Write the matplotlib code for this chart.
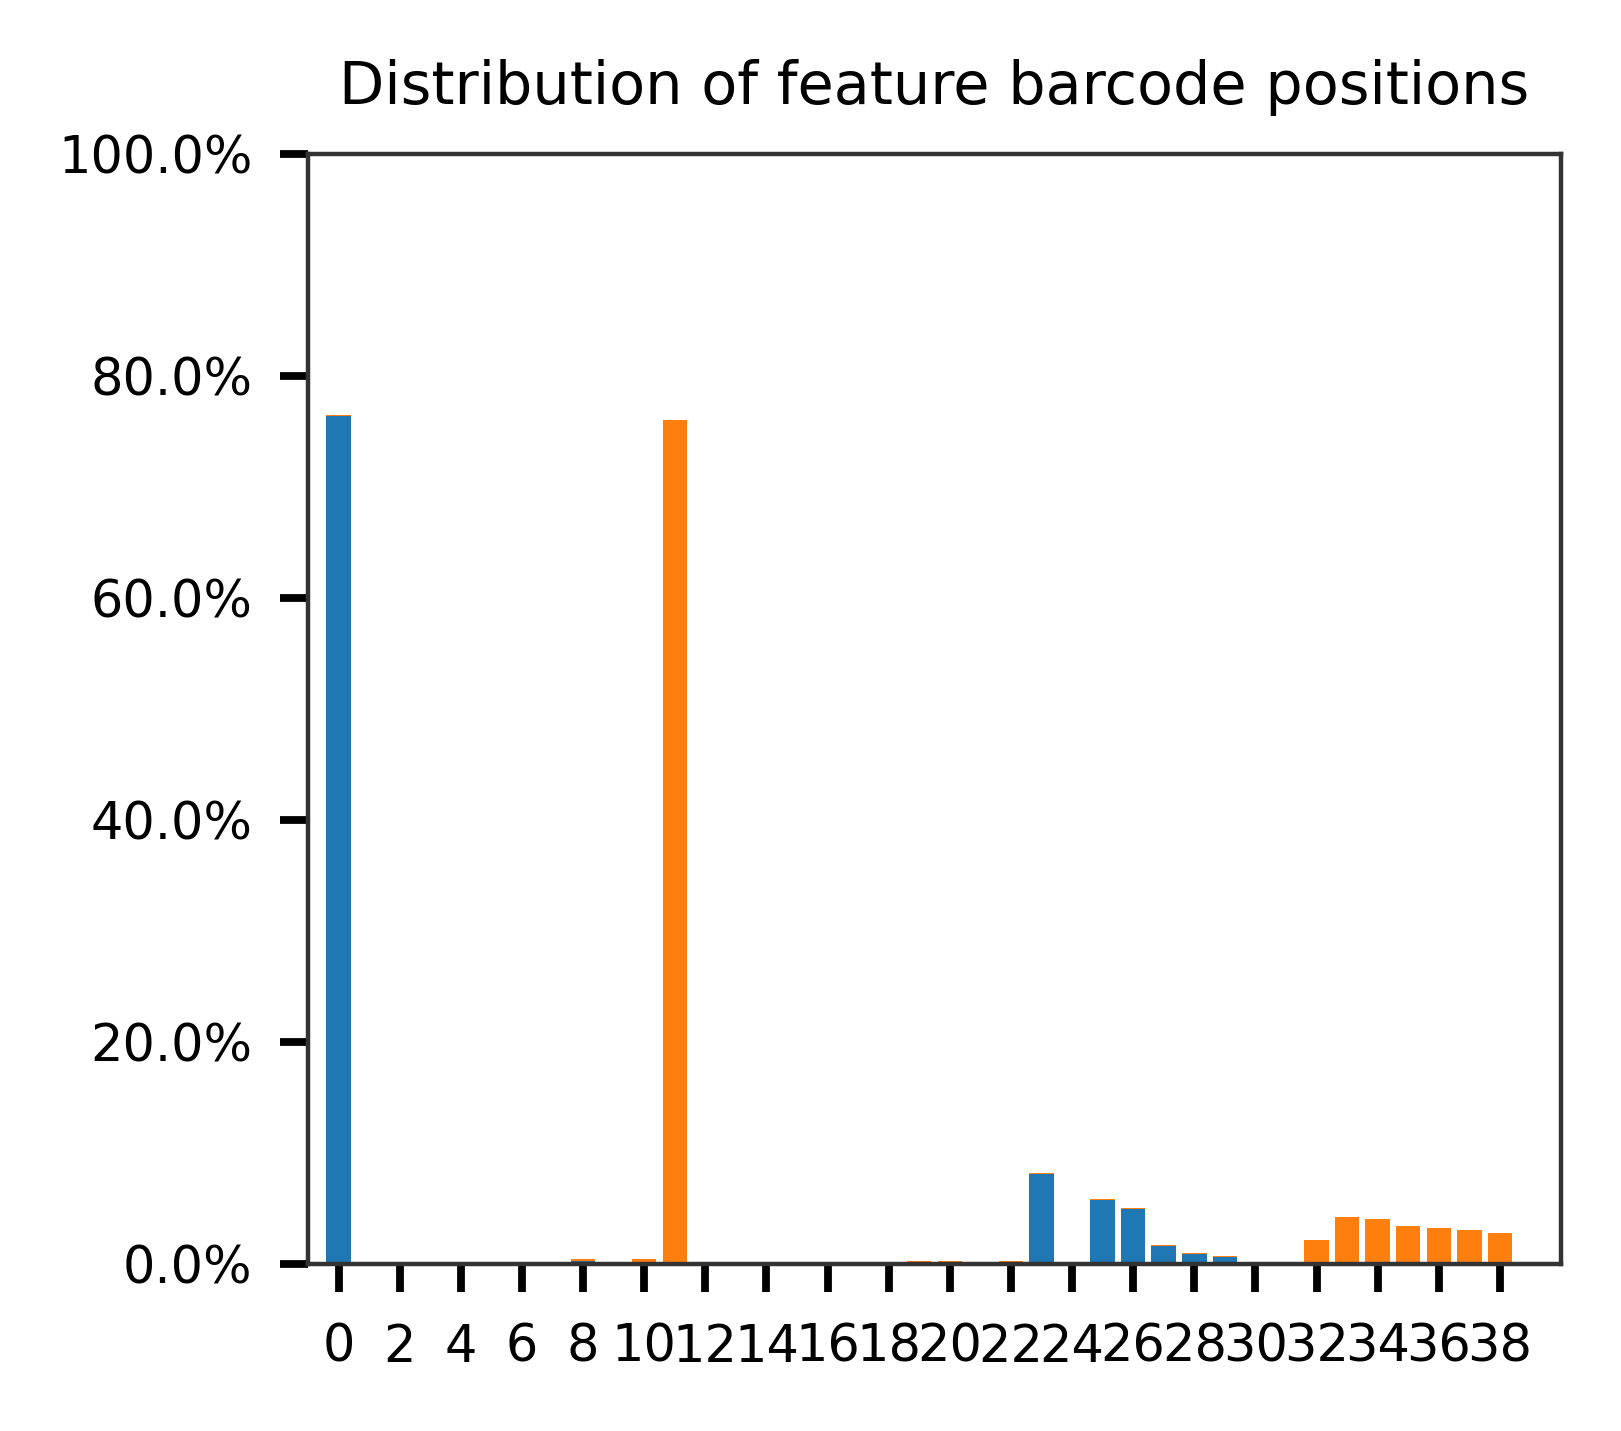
import matplotlib
matplotlib.use("Agg")
import matplotlib.pyplot as plt
import numpy as np
from matplotlib.ticker import PercentFormatter

# Позиции 0..39 и доли (в %) для двух частей стопки
positions = np.arange(40)
blue_pct = np.zeros(40)
orange_pct = np.zeros(40)

blue_idx = [0, 8, 23, 25, 26, 27, 28, 29]
blue_val = [76.4, 0.35, 8.15, 5.8, 5.0, 1.65, 0.95, 0.65]
orange_idx = [0, 8, 10, 11, 19, 20, 22, 23, 25, 26, 27, 28, 29,
              32, 33, 34, 35, 36, 37, 38]
orange_val = [0.1, 0.12, 0.45, 76.05, 0.35, 0.35, 0.35, 0.12, 0.12, 0.12, 0.12, 0.12, 0.12,
              2.2, 4.25, 4.1, 3.45, 3.3, 3.1, 2.85]

blue_pct[blue_idx] = blue_val
orange_pct[orange_idx] = orange_val

plt.rcParams["font.family"] = "DejaVu Sans"

fig = plt.figure(figsize=(1621 / 400, 1431 / 400), dpi=400)
ax = fig.add_axes([0.190, 0.1164, 0.963 - 0.190, 0.8924 - 0.1164])

ax.bar(positions, blue_pct, width=0.8, color="#1f77b4")
ax.bar(positions, orange_pct, width=0.8, bottom=blue_pct, color="#ff7f0e")

ax.set_xlim(-1, 40)
ax.set_ylim(0, 100)
ax.set_xticks(np.arange(0, 40, 2))
ax.set_yticks(np.arange(0, 101, 20))
ax.yaxis.set_major_formatter(PercentFormatter(xmax=100, decimals=1))

for spine in ax.spines.values():
    spine.set_color("#333333")
    spine.set_linewidth(0.8)

ax.tick_params(axis="both", colors="black", length=5, width=1.4,
               labelsize=9.2, pad=5)
ax.tick_params(axis="x", pad=5.5)

ax.set_title("Distribution of feature barcode positions", fontsize=10.6, pad=9)

fig.savefig("out.png", dpi=400)
